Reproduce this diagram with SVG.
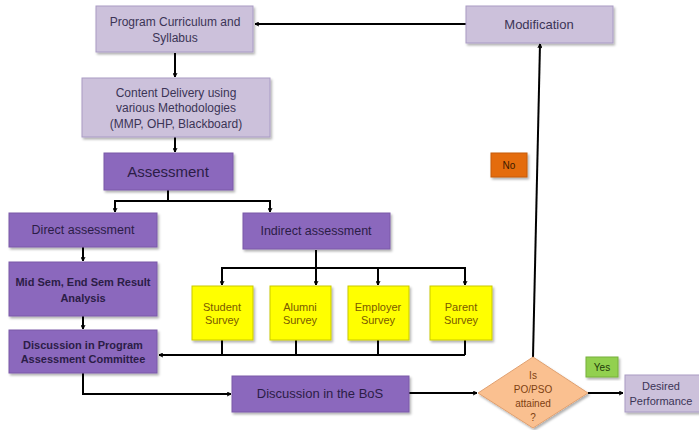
<svg xmlns="http://www.w3.org/2000/svg" width="699" height="430" viewBox="0 0 699 430">
<defs>
<filter id="sh" x="-10%" y="-10%" width="125%" height="130%">
<feDropShadow dx="1.5" dy="2" stdDeviation="1.2" flood-color="#000" flood-opacity="0.3"/>
</filter>
<marker id="ah" viewBox="0 0 10 10" refX="9" refY="5" markerWidth="5" markerHeight="5" orient="auto-start-reverse" markerUnits="userSpaceOnUse">
<path d="M1,1 L9,5 L1,9" fill="none" stroke="#000" stroke-width="2"/>
</marker>
<style>
.light{fill:#ccc1db;stroke:#a99bc4;stroke-width:1}
.dark{fill:#8b68bd;stroke:#7a5aa8;stroke-width:1}
.yel{fill:#ffff00;stroke:#c9c900;stroke-width:1}
text{font-family:"Liberation Sans",Arial,sans-serif;text-anchor:middle}
.lt{fill:#3b3456;font-size:12px}
.dt{fill:#2b1d47;font-size:12px;font-weight:bold}
.st{fill:#7a5a00;font-size:11px}
.c{fill:none;stroke:#000;stroke-width:2}
.a{marker-end:url(#ah)}
</style>
</defs>
<g id="connectors">
<path class="c a" d="M466,24 H255"/>
<path class="c a" d="M175,53 V77"/>
<path class="c a" d="M175,137 V152"/>
<path class="c" d="M168,190 V201 M115,201 H270"/>
<path class="c a" d="M115,200 V212"/>
<path class="c a" d="M270,200 V212"/>
<path class="c a" d="M83,247 V261"/>
<path class="c a" d="M83,316 V329"/>
<path class="c" d="M316,250 V268 M222,268 H465"/>
<path class="c a" d="M222,267 V285"/>
<path class="c a" d="M316,267 V285"/>
<path class="c a" d="M378,267 V285"/>
<path class="c a" d="M465,267 V285"/>
<path class="c" d="M222,340 V355 M296,340 V355 M378,340 V355 M465,340 V355"/>
<path class="c a" d="M465,355 H159"/>
<path class="c a" d="M83,373 V394 H231"/>
<path class="c a" d="M409,393 H477"/>
<path class="c a" d="M533,357 L540,44"/>
<path class="c a" d="M588,393 H623"/>
</g>
<g id="program-curriculum">
<rect class="light" x="96" y="6" width="157" height="46" filter="url(#sh)"/>
<text class="lt" x="175" y="26">Program Curriculum and</text>
<text class="lt" x="175" y="42">Syllabus</text>
</g>
<g id="content-delivery">
<rect class="light" x="82" y="78" width="188" height="59" filter="url(#sh)"/>
<text class="lt" x="176" y="97">Content Delivery using</text>
<text class="lt" x="176" y="112">various Methodologies</text>
<text class="lt" x="176" y="128">(MMP, OHP, Blackboard)</text>
</g>
<g id="assessment">
<rect class="dark" x="104" y="153" width="129" height="37" filter="url(#sh)"/>
<text class="dt" x="168" y="177" style="font-size:15px;font-weight:normal">Assessment</text>
</g>
<g id="modification">
<rect class="light" x="466" y="6" width="147" height="37" filter="url(#sh)"/>
<text class="lt" x="539" y="29" style="font-size:13px">Modification</text>
</g>
<g id="no-label">
<rect x="491" y="153" width="36" height="24" fill="#e46c0a" stroke="#c55a08" filter="url(#sh)"/>
<text x="509" y="169" style="font-size:10px;fill:#3a1a00">No</text>
</g>
<g id="direct-assessment">
<rect class="dark" x="9" y="213" width="148" height="34" filter="url(#sh)"/>
<text class="dt" x="83" y="234" style="font-size:12.5px;font-weight:normal">Direct assessment</text>
</g>
<g id="indirect-assessment">
<rect class="dark" x="243" y="213" width="147" height="36" filter="url(#sh)"/>
<text class="dt" x="316" y="235" style="font-size:12.5px;font-weight:normal">Indirect assessment</text>
</g>
<g id="mid-sem">
<rect class="dark" x="9" y="262" width="148" height="54" filter="url(#sh)"/>
<text class="dt" x="83" y="286" style="font-size:11px">Mid Sem, End Sem Result</text>
<text class="dt" x="83" y="302" style="font-size:11px">Analysis</text>
</g>
<g id="discussion-pac">
<rect class="dark" x="9" y="330" width="148" height="43" filter="url(#sh)"/>
<text class="dt" x="83" y="349" style="font-size:11px">Discussion in Program</text>
<text class="dt" x="83" y="363" style="font-size:11px">Assessment Committee</text>
</g>
<g id="student-survey">
<rect class="yel" x="192" y="286" width="61" height="54" filter="url(#sh)"/>
<text class="st" x="222" y="311">Student</text>
<text class="st" x="222" y="324">Survey</text>
</g>
<g id="alumni-survey">
<rect class="yel" x="270" y="286" width="61" height="54" filter="url(#sh)"/>
<text class="st" x="300" y="311">Alumni</text>
<text class="st" x="300" y="324">Survey</text>
</g>
<g id="employer-survey">
<rect class="yel" x="348" y="286" width="61" height="54" filter="url(#sh)"/>
<text class="st" x="378" y="311">Employer</text>
<text class="st" x="378" y="324">Survey</text>
</g>
<g id="parent-survey">
<rect class="yel" x="430" y="286" width="62" height="54" filter="url(#sh)"/>
<text class="st" x="461" y="311">Parent</text>
<text class="st" x="461" y="324">Survey</text>
</g>
<g id="discussion-bos">
<rect class="dark" x="232" y="376" width="177" height="36" filter="url(#sh)"/>
<text class="dt" x="320" y="398" style="font-size:13px;font-weight:normal">Discussion in the BoS</text>
</g>
<g id="decision">
<polygon points="533,357 588,393 533,428 478,393" fill="#fac090" stroke="#e0a070" filter="url(#sh)"/>
<text x="533" y="379" style="font-size:10px;fill:#7f3f10">Is</text>
<text x="533" y="393" style="font-size:10px;fill:#7f3f10">PO/PSO</text>
<text x="533" y="407" style="font-size:10px;fill:#7f3f10">attained</text>
<text x="533" y="421" style="font-size:10px;fill:#7f3f10">?</text>
</g>
<g id="yes-label">
<rect x="586" y="357" width="32" height="20" fill="#92d050" stroke="#76b03a" filter="url(#sh)"/>
<text x="602" y="371" style="font-size:10px;fill:#1f3a0a">Yes</text>
</g>
<g id="desired-performance">
<rect class="light" x="625" y="375" width="76" height="37" filter="url(#sh)"/>
<text class="lt" x="661" y="390" style="font-size:11px">Desired</text>
<text class="lt" x="661" y="405" style="font-size:11px">Performance</text>
</g>
</svg>
